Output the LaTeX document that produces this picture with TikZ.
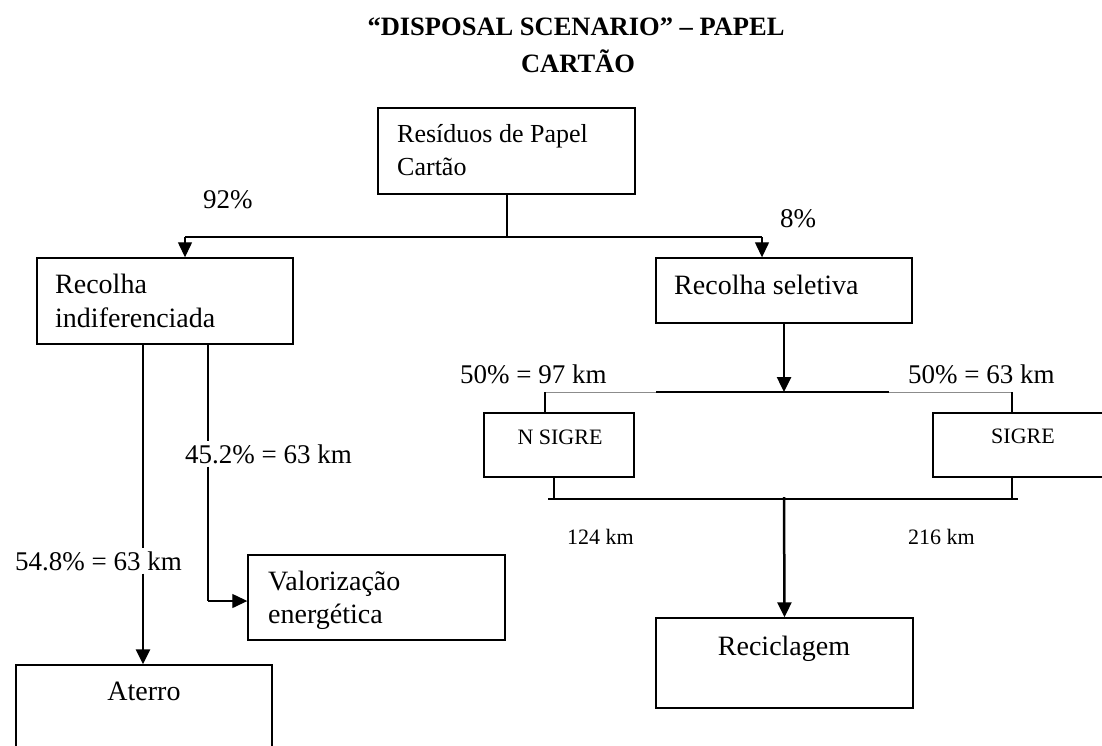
\documentclass[tikz,border=0pt]{standalone}
\usepackage{fontspec}
\setmainfont{Liberation Serif}
\usetikzlibrary{arrows.meta}
\begin{document}
\begin{tikzpicture}[x=1pt,y=-1pt,
  box/.style={draw,line width=1.4pt,rectangle,inner sep=0pt,minimum width=#1},
  txt/.style={inner sep=0pt,font=\fontsize{28}{34}\selectfont},
  lbl/.style={inner sep=3pt,font=\fontsize{27}{32}\selectfont},
  small/.style={inner sep=0pt,font=\fontsize{22}{26}\selectfont},
  wire/.style={line width=1.3pt},
  flow/.style={line width=1.3pt,-{Triangle[length=15pt,width=14pt]}},
  heavy/.style={line width=2.5pt,-{Triangle[length=15pt,width=14pt]}}]
\useasboundingbox (0,0) rectangle (1102,745);
\clip (0,0) rectangle (1102,745);

% title
\node[inner sep=0pt,anchor=base,font=\fontsize{26.5}{30}\bfseries] (t1) at (576,35) {“DISPOSAL SCENARIO” – PAPEL};
\node[inner sep=0pt,anchor=base,font=\fontsize{26.5}{30}\bfseries] (t2) at (578,72) {CARTÃO};

% boxes
\node[box=257pt,minimum height=86pt] (res) at (506.5,151) {};
\node[box=256pt,minimum height=86pt] (ri) at (165,301) {};
\node[box=256pt,minimum height=65pt] (rs) at (784,290.5) {};
\node[box=257pt,minimum height=85pt] (val) at (376.5,597.5) {};
\node[box=256pt,minimum height=95pt] (at) at (144,712.5) {};
\node[box=150pt,minimum height=64pt] (ns) at (559,445) {};
\node[box=187pt,minimum height=64pt] (sg) at (1026.5,445) {};
\node[box=257pt,minimum height=90pt] (rec) at (784.5,663) {};

% box texts
\node[inner sep=0pt,anchor=base west,font=\fontsize{26}{30}\selectfont] (res1) at (397,142) {Resíduos de Papel};
\node[inner sep=0pt,anchor=base west,font=\fontsize{26}{30}\selectfont] (res2) at (397,175) {Cartão};
\node[txt,anchor=base west] (ri1) at (55,293) {Recolha};
\node[txt,anchor=base west] (ri2) at (55,327) {indiferenciada};
\node[txt,anchor=base west] (rs1) at (674,294) {Recolha seletiva};
\node[txt,anchor=base west] (val1) at (268,590) {Valorização};
\node[txt,anchor=base west] (val2) at (268,623) {energética};
\node[txt,anchor=base] (at1) at (144,700) {Aterro};
\node[txt,anchor=base] (rec1) at (784,655) {Reciclagem};
\node[small,anchor=base] (ns1) at (560,444) {N SIGRE};
\node[small,anchor=base] (sg1) at (1023,443) {SIGRE};

% branch labels
\node[inner sep=0pt,anchor=base west,font=\fontsize{27}{32}\selectfont] (p92) at (203,208) {92\%};
\node[inner sep=0pt,anchor=base west,font=\fontsize{27}{32}\selectfont] (p8) at (780,227) {8\%};
\node[lbl,anchor=base west] (l548) at (12,570) {54.8\% = 63 km};
\node[lbl,anchor=base west] (l452) at (182,463) {45.2\% = 63 km};
\node[inner sep=0pt,anchor=base west,font=\fontsize{27}{32}\selectfont] (l97) at (460,383) {50\% = 97 km};
\node[inner sep=0pt,anchor=base west,font=\fontsize{27}{32}\selectfont] (l63) at (908,383) {50\% = 63 km};
\node[small,anchor=base west] (d124) at (567,544) {124 km};
\node[small,anchor=base west] (d216) at (908,544) {216 km};

% junction points
\coordinate (j0) at (507,237);
\coordinate (jl) at (185,237);
\coordinate (jr) at (762,237);
\coordinate (k0) at (784,392);
\coordinate (kl) at (545,392);
\coordinate (kr) at (1012,392);
\coordinate (ka) at (656,392);
\coordinate (kb) at (889,392);
\coordinate (bl) at (548,499);
\coordinate (br) at (1018,499);
\coordinate (bm) at (784,497);
\coordinate (vx) at (208,344);
\coordinate (vc) at (208,601);
\coordinate (ax) at (143,344);

% first split
\draw[wire] (res.south -| j0) -- (j0);
\draw[wire] (jl) -- (jr);
\draw[flow] (jl) -- (jl |- ri.north);
\draw[flow] (jr) -- (jr |- rs.north);

% undifferentiated collection
\draw[line width=2.5pt] (ax) -- (ax |- l548.north);
\draw[heavy] (ax |- l548.south) -- (ax |- at.north);
\draw[wire] (vx) -- (vx |- l452.north);
\draw[wire] (vx |- l452.south) -- (vc);
\draw[flow] (vc) -- (vc -| val.west);

% selective collection
\draw[heavy] (rs.south) -- (k0);
\draw[line width=1pt,black!45] (kl) -- (ka);
\draw[line width=1pt,black!45] (kb) -- (kr);
\draw[wire] (ka) -- (kb);
\draw[wire] (kl) -- (kl |- ns.north);
\draw[wire] (kr) -- (kr |- sg.north);

% merge to recycling
\draw[wire] (554,477) -- (554,499);
\draw[wire] (sg.south -| kr) -- (1012,499);
\draw[wire] (bl) -- (br);
\draw[heavy] (bm) -- (rec.north);
\end{tikzpicture}
\end{document}
